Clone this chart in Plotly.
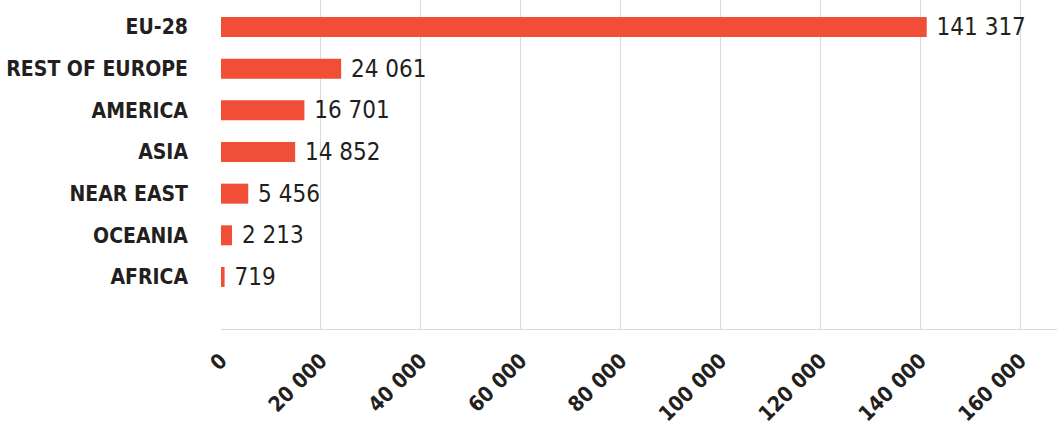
import plotly.graph_objects as go

categories = ["EU-28", "REST OF EUROPE", "AMERICA", "ASIA", "NEAR EAST", "OCEANIA", "AFRICA"]
values = [141317, 24061, 16701, 14852, 5456, 2213, 719]
tick_vals = [0, 20000, 40000, 60000, 80000, 100000, 120000, 140000, 160000]
tick_text = ["0", "20 000", "40 000", "60 000", "80 000", "100 000", "120 000", "140 000", "160 000"]

FONT = "DejaVu Sans Condensed, Liberation Sans Narrow, sans-serif"
TXT = "#231f20"

fig = go.Figure(go.Bar(
    x=values, y=categories, orientation="h",
    marker=dict(color="#f04e37", line=dict(width=0)),
    texttemplate=" %{x:,}", textposition="outside", cliponaxis=False,
    constraintext="none",
    textfont=dict(family=FONT, size=24, color=TXT),
    hoverinfo="skip",
))

fig.update_layout(
    width=1057, height=431,
    margin=dict(l=221, r=0, t=0, b=102, autoexpand=False),
    paper_bgcolor="white", plot_bgcolor="white",
    separators=". ",
    bargap=0.52,
    showlegend=False,
    xaxis=dict(
        range=[0, 167400], tickvals=tick_vals, ticktext=tick_text,
        tickangle=-45, showgrid=True, gridcolor="#d9d9d9", gridwidth=1,
        zeroline=False, showline=True, linecolor="#d9d9d9", linewidth=1,
        ticks="", automargin=False, ticklabelstandoff=10,
        tickfont=dict(family=FONT, size=21, color=TXT, weight="bold"),
    ),
    yaxis=dict(
        categoryorder="array", categoryarray=categories,
        range=[7.25, -0.65], showgrid=False, zeroline=False, showline=False,
        ticks="", ticklabelstandoff=32, automargin=False,
        tickfont=dict(family=FONT, size=21, color=TXT, weight="bold"),
    ),
)

fig.write_html(
    "out.html",
    config={"displayModeBar": False, "staticPlot": True},
    post_script="document.body.style.margin='0';document.body.style.overflow='hidden';",
)
